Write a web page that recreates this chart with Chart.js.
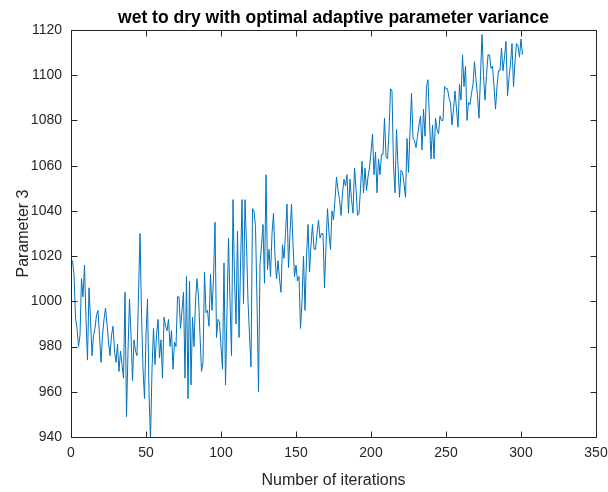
<!DOCTYPE html>
<html>
<head>
<meta charset="utf-8">
<script src="https://cdn.jsdelivr.net/npm/chart.js@4"></script>
<style>
  html, body { margin: 0; padding: 0; background: #ffffff; }
  #wrap { width: 608px; height: 492px; }
</style>
</head>
<body>
<div id="wrap"><canvas id="chart" width="608" height="492"></canvas></div>
<script>
// parameter 3 value at each iteration
const paramValues = [
  1018, 1012, 993, 988, 980, 985, 1010, 1002, 1016, 992,
  974, 1006, 992, 976, 985, 988, 994, 996, 985, 973,
  985, 992, 997, 990, 982, 976, 985, 989, 978, 973,
  981, 969, 978, 972, 966, 1004, 949, 978, 1001, 985,
  965, 983, 978, 976, 1003, 1030, 995, 970, 957, 985,
  1001, 960, 938, 970, 988, 972, 985, 992, 975, 983,
  966, 993, 989, 987, 992, 980, 987, 970, 982, 980,
  1002, 1002, 988, 996, 1004, 966, 1011, 957, 1009, 963,
  993, 980, 1000, 1010, 1002, 985, 969, 973, 1013, 995,
  996, 989, 1012, 996, 1010, 1035, 984, 992, 991, 980,
  970, 1017, 963, 995, 1028, 1000, 976, 1045, 1010, 990,
  1031, 984, 1015, 1045, 999, 1045, 1025, 1000, 985, 971,
  1041, 1040, 1033, 1000, 960, 1016, 1025, 1034, 1008, 1056,
  1014, 1023, 1011, 1030, 1039, 1020, 1010, 1018, 1010, 1004,
  1025, 1019, 1030, 1043, 1015, 1030, 1043, 1025, 1011, 1016,
  1009, 1011, 988, 1000, 1020, 996, 1020, 1034, 1013, 1025,
  1034, 1023, 1023, 1030, 1036, 1028, 1030, 1030, 1006, 1025,
  1041, 1030, 1023, 1040, 1036, 1045, 1055, 1049, 1045, 1038,
  1048, 1054, 1051, 1056, 1039, 1054, 1045, 1039, 1059, 1050,
  1038, 1039, 1050, 1062, 1048, 1059, 1049, 1055, 1059, 1066,
  1074, 1056, 1066, 1048, 1063, 1056, 1065, 1065, 1081, 1064,
  1063, 1075, 1094, 1093, 1060, 1048, 1076, 1060, 1046, 1058,
  1057, 1052, 1046, 1072, 1057, 1075, 1092, 1072, 1071, 1068,
  1073, 1078, 1082, 1067, 1085, 1073, 1095, 1098, 1080, 1063,
  1078, 1063, 1081, 1076, 1074, 1082, 1080, 1080, 1095, 1094,
  1094, 1090, 1088, 1078, 1085, 1093, 1085, 1077, 1096, 1089,
  1109, 1095, 1104, 1080, 1088, 1087, 1092, 1096, 1106, 1098,
  1091, 1081, 1100, 1118, 1100, 1089, 1100, 1109, 1109, 1103,
  1104, 1095, 1085, 1095, 1102, 1102, 1112, 1102, 1108, 1115,
  1091, 1099, 1105, 1114, 1095, 1106, 1114, 1113, 1108, 1116,
  1109
];

// iteration numbers start at 1
const iterations = paramValues.map((v, i) => i + 1);

const xTicks = [0, 50, 100, 150, 200, 250, 300, 350];
const yTicks = [940, 960, 980, 1000, 1020, 1040, 1060, 1080, 1100, 1120];

const titleText = 'wet to dry with optimal adaptive parameter variance';
const xLabel = 'Number of iterations';
const yLabel = 'Parameter 3';

const axisColor = '#262626';
const lineColor = '#0072BD';
const fontFamily = '"Liberation Sans", Arial, Helvetica, sans-serif';

// matlab style box + inward ticks, title centred over the plot area
const matlabAxes = {
    id: 'matlabAxes',
    afterDraw(chart) {
        const ctx = chart.ctx;
        const a = chart.chartArea;
        const xs = chart.scales.x;
        const ys = chart.scales.y;
        const len = 6;
        const l = Math.round(a.left) + 0.5, r = Math.round(a.right) + 0.5;
        const t = Math.round(a.top) + 0.5, b = Math.round(a.bottom) + 0.5;
        ctx.save();
        ctx.strokeStyle = axisColor;
        ctx.lineWidth = 1;
        ctx.strokeRect(l, t, r - l, b - t);
        ctx.beginPath();
        xs.ticks.forEach(tk => {
            const px = Math.round(xs.getPixelForValue(tk.value)) + 0.5;
            ctx.moveTo(px, b);
            ctx.lineTo(px, b - len);
            ctx.moveTo(px, t);
            ctx.lineTo(px, t + len);
        });
        ys.ticks.forEach(tk => {
            const py = Math.round(ys.getPixelForValue(tk.value)) + 0.5;
            ctx.moveTo(l, py);
            ctx.lineTo(l + len, py);
            ctx.moveTo(r, py);
            ctx.lineTo(r - len, py);
        });
        ctx.stroke();

        ctx.fillStyle = '#000000';
        ctx.font = 'bold 17.5px ' + fontFamily;
        ctx.textAlign = 'center';
        ctx.textBaseline = 'alphabetic';
        ctx.fillText(titleText, (a.left + a.right) / 2, 23);
        ctx.restore();
    }
};

const ctx = document.getElementById('chart').getContext('2d');
new Chart(ctx, {
    type: 'line',
    data: {
        datasets: [{
            data: iterations.map((it, i) => ({ x: it, y: paramValues[i] })),
            borderColor: lineColor,
            borderWidth: 1,
            pointRadius: 0,
            fill: false,
            tension: 0
        }]
    },
    options: {
        responsive: false,
        animation: false,
        layout: { padding: { top: 30, right: 12, left: 0, bottom: 0 } },
        plugins: {
            legend: { display: false },
            tooltip: { enabled: false },
            title: { display: false }
        },
        scales: {
            x: {
                type: 'linear',
                min: 0,
                max: 350,
                afterBuildTicks: s => { s.ticks = xTicks.map(v => ({ value: v })); },
                afterFit: s => { s.height = 55; s.paddingRight = 0; s.paddingLeft = 0; },
                grid: { display: true, drawOnChartArea: false, drawTicks: false },
                border: { display: false },
                ticks: {
                    color: axisColor,
                    padding: 8,
                    maxRotation: 0,
                    autoSkip: false,
                    callback: v => String(v),
                    font: { family: fontFamily, size: 14 }
                },
                title: {
                    display: true,
                    text: xLabel,
                    color: axisColor,
                    padding: { top: 0, bottom: 2 },
                    font: { family: fontFamily, size: 16 }
                }
            },
            y: {
                type: 'linear',
                min: 940,
                max: 1120,
                afterBuildTicks: s => { s.ticks = yTicks.map(v => ({ value: v })); },
                afterFit: s => { s.width = 71; },
                grid: { display: true, drawOnChartArea: false, drawTicks: false },
                border: { display: false },
                ticks: {
                    color: axisColor,
                    padding: 9,
                    autoSkip: false,
                    callback: v => String(v),
                    font: { family: fontFamily, size: 14 }
                },
                title: {
                    display: true,
                    text: yLabel,
                    color: axisColor,
                    padding: { top: 14, bottom: 0 },
                    font: { family: fontFamily, size: 16 }
                }
            }
        }
    },
    plugins: [matlabAxes]
});
</script>
</body>
</html>
